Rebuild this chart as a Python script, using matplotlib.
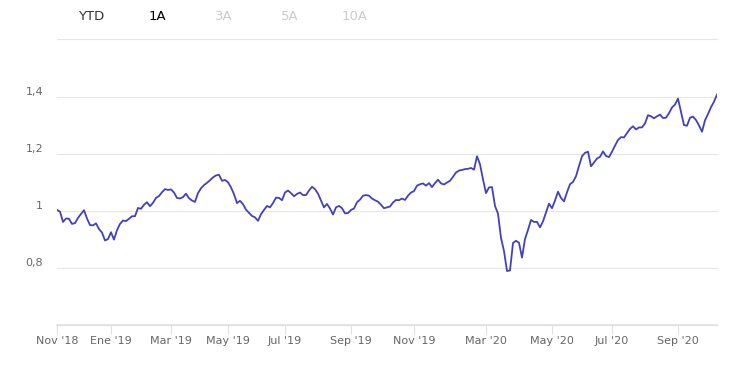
import matplotlib.pyplot as plt
import numpy as np

# fund value, one reading per observation (ordinal axis, like the source chart)
nav = [1.003, 0.997, 0.961, 0.973, 0.972, 0.954, 0.957, 0.975, 0.989, 1.002,
       0.973, 0.950, 0.949, 0.956, 0.936, 0.924, 0.896, 0.901, 0.925, 0.899,
       0.932, 0.954, 0.966, 0.964, 0.972, 0.981, 0.981, 1.010, 1.007, 1.021,
       1.030, 1.016, 1.028, 1.045, 1.052, 1.065, 1.076, 1.073, 1.075, 1.064,
       1.045, 1.043, 1.048, 1.060, 1.044, 1.036, 1.031, 1.062, 1.079, 1.090,
       1.098, 1.107, 1.117, 1.124, 1.126, 1.105, 1.108, 1.100, 1.082, 1.058,
       1.027, 1.035, 1.023, 1.004, 0.993, 0.982, 0.977, 0.965, 0.988, 1.003,
       1.017, 1.012, 1.027, 1.046, 1.045, 1.037, 1.064, 1.071, 1.062, 1.051,
       1.059, 1.064, 1.055, 1.055, 1.071, 1.084, 1.076, 1.060, 1.036, 1.012,
       1.024, 1.008, 0.987, 1.012, 1.017, 1.009, 0.991, 0.992, 1.003, 1.008,
       1.030, 1.039, 1.053, 1.055, 1.053, 1.043, 1.037, 1.032, 1.021, 1.009,
       1.012, 1.015, 1.029, 1.038, 1.037, 1.043, 1.038, 1.053, 1.064, 1.069,
       1.088, 1.093, 1.096, 1.088, 1.097, 1.083, 1.097, 1.109, 1.096, 1.092,
       1.099, 1.105, 1.119, 1.134, 1.141, 1.143, 1.146, 1.147, 1.150, 1.144,
       1.191, 1.163, 1.110, 1.062, 1.082, 1.083, 1.017, 0.990, 0.905, 0.859,
       0.789, 0.791, 0.887, 0.895, 0.888, 0.836, 0.901, 0.933, 0.968, 0.961,
       0.961, 0.942, 0.963, 0.994, 1.025, 1.009, 1.036, 1.067, 1.045, 1.033,
       1.065, 1.093, 1.101, 1.121, 1.157, 1.191, 1.203, 1.207, 1.156, 1.169,
       1.183, 1.189, 1.208, 1.192, 1.188, 1.207, 1.228, 1.248, 1.258, 1.257,
       1.272, 1.287, 1.296, 1.285, 1.292, 1.292, 1.306, 1.335, 1.331, 1.324,
       1.331, 1.337, 1.325, 1.326, 1.342, 1.362, 1.372, 1.393, 1.346, 1.300,
       1.298, 1.326, 1.330, 1.318, 1.299, 1.277, 1.317, 1.339, 1.363, 1.382,
       1.407]

month_labels = ["Nov '18", "Ene '19", "Mar '19", "May '19", "Jul '19", "Sep '19",
                "Nov '19", "Mar '20", "May '20", "Jul '20", "Sep '20"]
month_first_obs = [0, 18, 38, 57, 76, 98, 119, 143, 165, 185, 207]

y_ticks = [0.6, 0.8, 1.0, 1.2, 1.4, 1.6]
y_labels = ["", "0,8", "1", "1,2", "1,4", ""]

buttons = ["YTD", "1A", "3A", "5A", "10A"]
button_colors = ["#333333", "#000000", "#cccccc", "#cccccc", "#cccccc"]

W, H = 746, 370
fig = plt.figure(figsize=(W / 100, H / 100), dpi=100)
ax = fig.add_axes([57 / W, 45 / H, 660 / W, 285.5 / H])

x = np.arange(len(nav))
ax.plot(x, nav, color="#4340c0", linewidth=1.3, solid_joinstyle="round")

ax.set_xlim(0, len(nav) - 1)
ax.set_ylim(0.6, 1.6)

ax.set_yticks(y_ticks)
ax.set_yticklabels(y_labels)
ax.grid(axis="y", color="#e6e6e6", linewidth=0.8)
for gl in ax.get_ygridlines():
    gl.set_clip_on(False)
ax.set_axisbelow(True)
ax.tick_params(axis="y", length=0, pad=10, labelsize=8, labelcolor="#666666")
for lab in ax.get_yticklabels():
    lab.set_verticalalignment("bottom")

ax.set_xticks(month_first_obs)
ax.set_xticklabels(month_labels)
ax.tick_params(axis="x", length=6.5, width=0.8, color="#e0e0e0", pad=1.5,
               labelsize=8, labelcolor="#666666")

for side in ["top", "right", "left"]:
    ax.spines[side].set_visible(False)
ax.spines["bottom"].set_color("#e0e0e0")
ax.spines["bottom"].set_linewidth(1.2)

btn_x = [91.5, 157, 223.5, 289.5, 355]
for name, col, bx in zip(buttons, button_colors, btn_x):
    fig.text(bx / W, 1 - 16 / H, name, color=col, fontsize=9.5,
             ha="center", va="center")

fig.savefig("out.png", dpi=100)
